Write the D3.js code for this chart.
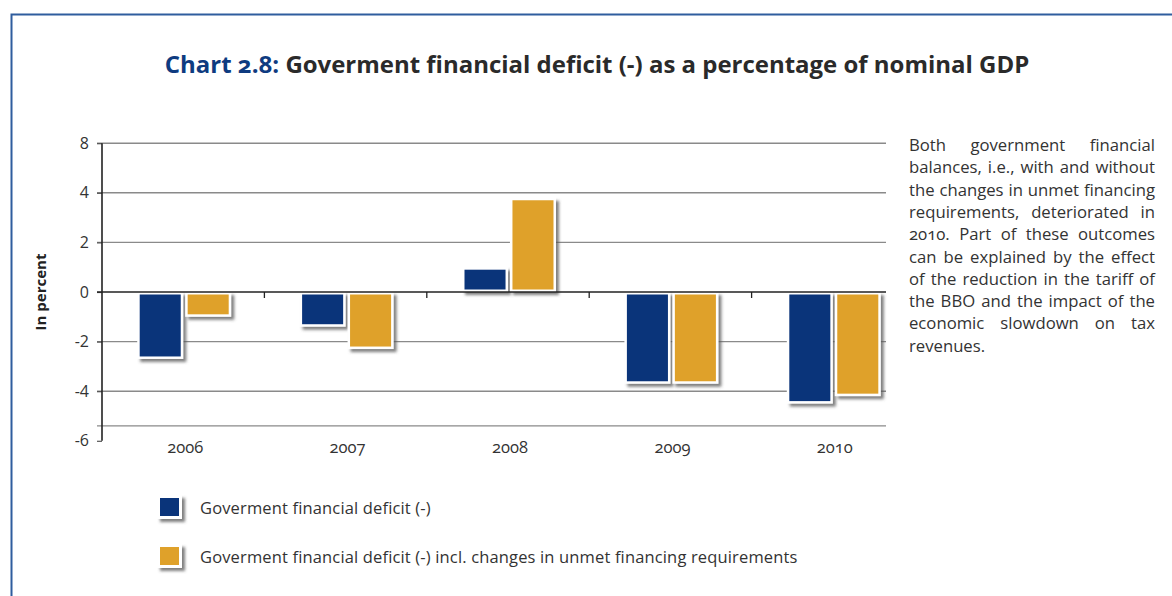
<!DOCTYPE html>
<html>
<head>
<meta charset="utf-8">
<script src="https://cdn.jsdelivr.net/npm/d3@7"></script>
<style>
  html, body { margin: 0; padding: 0; background: #fff; }
  svg { display: block; font-family: "Open Sans", sans-serif; font-variant-numeric: oldstyle-nums; }
</style>
</head>
<body>
<svg id="chart" width="1172" height="596"></svg>
<script>
// Years on the category axis
const years = ["2006", "2007", "2008", "2009", "2010"];
// Government financial balance, % of nominal GDP
const deficit = [-2.7, -1.4, 1.0, -3.7, -4.5];
// Same balance including changes in unmet financing requirements
const deficitIncl = [-1.0, -2.3, 3.8, -3.7, -4.2];
const seriesNames = [
  "Goverment financial deficit (-)",
  "Goverment financial deficit (-) incl. changes in unmet financing requirements"
];
// Value axis ticks and the labels printed next to them
const yTickValues = [6, 4, 2, 0, -2, -4, -6];
const yTickLabels = ["8", "4", "2", "0", "-2", "-4", "-6"];
// Horizontal rules behind the bars
const gridValues = [6, 4, 2, -2, -4, -5.4];

const noteLines = [
  "Both government financial",
  "balances, i.e., with and without",
  "the changes in unmet financing",
  "requirements, deteriorated in",
  "2010. Part of these outcomes",
  "can be explained by the effect",
  "of the reduction in the tariff of",
  "the BBO and the impact of the",
  "economic slowdown on tax",
  "revenues."
];

const colors = ["#0a347a", "#dfa12a"];

const svg = d3.select("#chart");

// drop shadow used under bars and legend swatches
const defs = svg.append("defs");
const f = defs.append("filter").attr("id", "shadow")
  .attr("x", "-20%").attr("y", "-20%").attr("width", "150%").attr("height", "150%");
f.append("feDropShadow").attr("dx", 3).attr("dy", 3).attr("stdDeviation", 1.6)
  .attr("flood-color", "#555").attr("flood-opacity", 0.75);

// page frame
svg.append("path")
  .attr("d", "M11.5,596 V14.5 H1172")
  .attr("fill", "none").attr("stroke", "#2f5d9e").attr("stroke-width", 2);

// title
const title = svg.append("text")
  .attr("x", 597).attr("y", 73).attr("text-anchor", "middle")
  .attr("font-size", 24).attr("font-weight", 700);
title.append("tspan").attr("fill", "#0e3b80").text("Chart 2.8: ");
title.append("tspan").attr("fill", "#2a2a2a")
  .text("Goverment financial deficit (-) as a percentage of nominal GDP");
// keep the heading at its intended width
const tw = title.node().getComputedTextLength();
title.attr("font-size", 24 * 865 / tw);

// scales
const plotLeft = 102, plotRight = 886;
const x = d3.scaleBand().domain(years).range([plotLeft, plotLeft + 5 * 162.4]);
const y = d3.scaleLinear().domain([-6, 6]).range([440.8, 143.2]);
const x1 = d3.scaleBand().domain([0, 1]).range([-47, 47]).paddingInner(0.04);

// gridlines
svg.append("g").selectAll("line").data(gridValues).join("line")
  .attr("x1", plotLeft - 5).attr("x2", plotRight)
  .attr("y1", d => y(d)).attr("y2", d => y(d))
  .attr("stroke", "#8a8a8a").attr("stroke-width", 1.4);

// value axis
const yAxis = d3.axisLeft(y).tickValues(yTickValues)
  .tickFormat((d, i) => yTickLabels[i]).tickSize(5).tickPadding(8);
const gy = svg.append("g").attr("transform", `translate(${plotLeft},0)`).call(yAxis);
gy.select(".domain").remove();
gy.selectAll(".tick line").attr("stroke", "#555").attr("stroke-width", 1.2);
gy.selectAll(".tick text").attr("font-size", 16).attr("fill", "#333")
  .attr("font-family", "'Open Sans', sans-serif")
  .style("font-variant-numeric", "lining-nums");
svg.append("line")
  .attr("x1", plotLeft).attr("x2", plotLeft)
  .attr("y1", y(6)).attr("y2", y(-6))
  .attr("stroke", "#222").attr("stroke-width", 1.6);

// axis title
svg.append("text")
  .attr("transform", `translate(46,${y(0)}) rotate(-90)`)
  .attr("text-anchor", "middle").attr("font-size", 15).attr("font-weight", 700)
  .attr("fill", "#222").text("In percent");

// bars
const groups = svg.append("g").selectAll("g").data(years).join("g")
  .attr("transform", d => `translate(${x(d) + x.bandwidth() / 2 + 1},0)`);
const barData = (yr, i) => [deficit[i], deficitIncl[i]].map((v, s) => ({ v, s }));
groups.each(function (yr, i) {
  const g = d3.select(this);
  const bars = g.selectAll("g").data(barData(yr, i)).join("g");
  bars.append("rect")
    .attr("x", d => x1(d.s)).attr("width", x1.bandwidth())
    .attr("y", d => Math.min(y(d.v), y(0)))
    .attr("height", d => Math.abs(y(d.v) - y(0)))
    .attr("fill", "#fff").attr("filter", "url(#shadow)");
  bars.append("rect")
    .attr("x", d => x1(d.s) + 2.5).attr("width", x1.bandwidth() - 5)
    .attr("y", d => Math.min(y(d.v), y(0)) + 2.5)
    .attr("height", d => Math.abs(y(d.v) - y(0)) - 5)
    .attr("fill", d => colors[d.s]);
});

// zero line with category separators
svg.append("line")
  .attr("x1", plotLeft - 5).attr("x2", plotRight)
  .attr("y1", y(0)).attr("y2", y(0))
  .attr("stroke", "#222").attr("stroke-width", 1.5);
svg.append("g").selectAll("line").data(years.slice(1)).join("line")
  .attr("x1", d => x(d)).attr("x2", d => x(d))
  .attr("y1", y(0)).attr("y2", y(0) + 6)
  .attr("stroke", "#222").attr("stroke-width", 1.3);

// category labels
svg.append("g").selectAll("text").data(years).join("text")
  .attr("x", d => x(d) + x.bandwidth() / 2 + 2).attr("y", 453)
  .attr("text-anchor", "middle").attr("font-size", 16.5).attr("fill", "#333")
  .text(d => d);

// legend
const legend = svg.append("g").selectAll("g").data(seriesNames).join("g")
  .attr("transform", (d, i) => `translate(157,${495 + i * 49})`);
legend.append("rect").attr("width", 25).attr("height", 24)
  .attr("fill", "#fff").attr("filter", "url(#shadow)");
legend.append("rect").attr("x", 3).attr("y", 3).attr("width", 19).attr("height", 18)
  .attr("fill", (d, i) => colors[i]);
legend.append("text").attr("x", 43).attr("y", 19)
  .attr("font-size", 16.5).attr("letter-spacing", 0.15).attr("fill", "#333").text(d => d);

// side note, justified
const noteLeft = 909, noteWidth = 246;
const note = svg.append("g").selectAll("text").data(noteLines).join("text")
  .attr("x", noteLeft).attr("y", (d, i) => 151 + i * 22.3)
  .attr("font-size", 15).attr("fill", "#333")
  .text(d => d);
let widest = 0;
note.each(function () { widest = Math.max(widest, this.getComputedTextLength()); });
note.attr("font-size", 15 * 244 / widest);
note.each(function (d, i) {
  if (i === noteLines.length - 1) return;
  const words = d.split(" ").length;
  const len = this.getComputedTextLength();
  if (words > 1) d3.select(this).attr("word-spacing", (noteWidth - len) / (words - 1));
});
</script>
</body>
</html>
